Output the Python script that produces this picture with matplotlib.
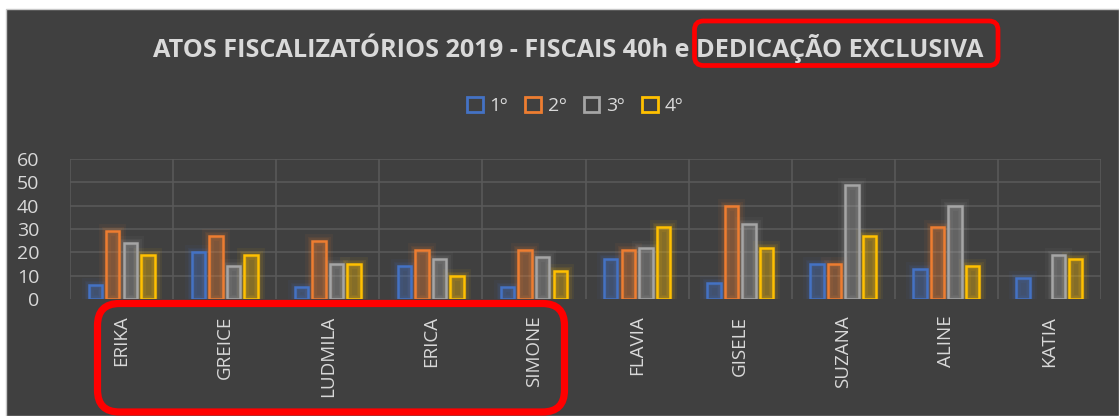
import numpy as np
import matplotlib.pyplot as plt
from matplotlib.patches import Rectangle, FancyBboxPatch, Patch
from matplotlib.transforms import IdentityTransform

plt.rcParams['font.family'] = ['Open Sans', 'DejaVu Sans']

names = ['ERIKA', 'GREICE', 'LUDMILA', 'ERICA', 'SIMONE',
         'FLAVIA', 'GISELE', 'SUZANA', 'ALINE', 'KATIA']
series = ['1º', '2º', '3º', '4º']
q1 = [6, 20, 5, 14, 5, 17, 7, 15, 13, 9]
q2 = [29, 27, 25, 21, 21, 21, 40, 15, 31, 0]
q3 = [24, 14, 15, 17, 18, 22, 32, 49, 40, 19]
q4 = [19, 19, 15, 10, 12, 31, 22, 27, 14, 17]
values = [q1, q2, q3, q4]
colors = ['#4472C4', '#ED7D31', '#A5A5A5', '#FFC000']

bg = '#404040'
txt = '#D9D9D9'

W, H = 1119, 416
fig = plt.figure(figsize=(W / 100, H / 100), dpi=100, facecolor='white')

# dark chart area
fig.patches.append(Rectangle((6 / W, 0), 1 - 6 / W, 1 - 9 / H, transform=fig.transFigure,
                             facecolor=bg, edgecolor='#C8C8C8', lw=1, zorder=-1))

ax = fig.add_axes([70 / W, 1 - 299 / H, 1031 / W, 140 / H])
ax.set_zorder(1)
ax.patch.set_alpha(0)

x = np.arange(len(names))
slot = 0.17
bw = 0.13
for i, (vals, c) in enumerate(zip(values, colors)):
    vals = np.array(vals)
    keep = vals > 0  # Excel draws nothing for zero
    xs = (x + (i - 1.5) * slot)[keep]
    vals = vals[keep]
    # soft glow
    for lw, a in [(10, 0.06), (6.5, 0.08), (4, 0.1)]:
        ax.bar(xs, vals, bw, facecolor='none', edgecolor=c, lw=lw, alpha=a, zorder=2)
    ax.bar(xs, vals, bw, facecolor=c, alpha=0.32, edgecolor='none', zorder=3)
    ax.bar(xs, vals, bw, facecolor='none', edgecolor=c, lw=1.8, zorder=4)

ax.set_xlim(-0.5, len(names) - 0.5)
ax.set_ylim(0, 60)
ax.set_yticks(range(0, 61, 10))
ax.set_xticks(x)
ax.set_xticklabels(names, rotation=90, fontsize=13.5, color=txt)
ax.tick_params(axis='x', length=0, pad=12)
ax.tick_params(axis='y', length=0, pad=22, labelsize=14, labelcolor=txt)

for yv in range(10, 61, 10):
    ax.axhline(yv, color='#595959', lw=1.2, zorder=1)
for xv in np.arange(-0.5, len(names), 1.0):
    ax.plot([xv, xv], [0, 60], color='#595959', lw=1.2, zorder=1)
for s in ax.spines.values():
    s.set_visible(False)

fig.text(568 / W, 1 - 48 / H, 'ATOS FISCALIZATÓRIOS 2019 - FISCAIS 40h e DEDICAÇÃO EXCLUSIVA',
         ha='center', va='center', fontsize=18.2, fontweight='bold', color=txt)

handles = [Patch(facecolor='none', edgecolor=c, lw=2) for c in colors]
fig.legend(handles, series, loc='center', bbox_to_anchor=(575 / W, 1 - 106 / H), ncol=4,
           frameon=False, fontsize=14, labelcolor=txt, handlelength=0.8, handleheight=0.8,
           handletextpad=0.35, columnspacing=0.9)

# red highlight boxes
ident = IdentityTransform()
fig.patches.append(FancyBboxPatch((694.5, 350.5), 998 - 694.5, 395 - 350.5,
                                  boxstyle='round,pad=0,rounding_size=9', transform=ident,
                                  facecolor='none', edgecolor='#FF0000', lw=3.4, zorder=5))
fig.patches.append(FancyBboxPatch((97.5, 4), 564.5 - 97.5, 112.5 - 4,
                                  boxstyle='round,pad=0,rounding_size=22', transform=ident,
                                  facecolor='none', edgecolor='#FF0000', lw=5.2, zorder=5))

fig.savefig('out.png', dpi=100, facecolor=fig.get_facecolor())
